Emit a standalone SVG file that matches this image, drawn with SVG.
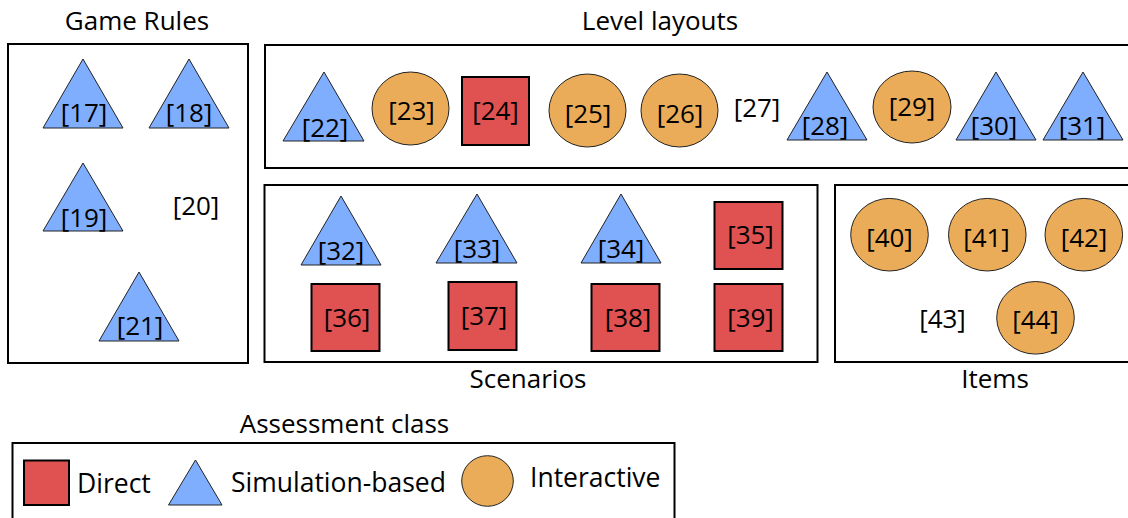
<svg xmlns="http://www.w3.org/2000/svg" width="1128" height="518" viewBox="0 0 1128 518">
<style>
.box{fill:none;stroke:#000;stroke-width:2}
.tri{fill:#80AEFF;stroke:#222;stroke-width:1}
.circ{fill:#EAAC58;stroke:#222;stroke-width:1}
.sq{fill:#E05151;stroke:#000;stroke-width:2}
text{font-family:"Open Sans","Noto Sans",sans-serif;fill:#000}
.t{font-size:26px;text-anchor:middle}
.l{font-size:26px;text-anchor:middle}
.lg{font-size:26.5px}
</style>
<rect width="1128" height="518" fill="#fff"/>
<g id="connectors"></g>
<g id="game-rules">
<rect class="box" x="8" y="44" width="240" height="319"/>
<text class="t" x="137" y="30">Game Rules</text>
<g id="n17"><polygon class="tri" points="83,59 123,128 43,128"/><text class="l" x="84" y="122">[17]</text></g>
<g id="n18"><polygon class="tri" points="189,59 229,128 149,128"/><text class="l" x="189" y="122">[18]</text></g>
<g id="n19"><polygon class="tri" points="83,163 123,231 43,231"/><text class="l" x="84" y="227">[19]</text></g>
<g id="n20"><text class="l" x="196" y="215">[20]</text></g>
<g id="n21"><polygon class="tri" points="139,272 179,341 99,341"/><text class="l" x="140" y="335">[21]</text></g>
</g>
<g id="level-layouts">
<rect class="box" x="265" y="45" width="870" height="123"/>
<text class="t" x="660" y="30">Level layouts</text>
<g id="n22"><polygon class="tri" points="324,72 364,141 283,141"/><text class="l" x="325" y="137">[22]</text></g>
<g id="n23"><ellipse class="circ" cx="410.5" cy="108.5" rx="38.5" ry="36.5"/><text class="l" x="411.5" y="120">[23]</text></g>
<g id="n24"><rect class="sq" x="462" y="77" width="67" height="68"/><text class="l" x="495.5" y="120">[24]</text></g>
<g id="n25"><ellipse class="circ" cx="587.5" cy="110.5" rx="38.5" ry="36.5"/><text class="l" x="588" y="123">[25]</text></g>
<g id="n26"><ellipse class="circ" cx="679.5" cy="110.5" rx="38.5" ry="36.5"/><text class="l" x="680" y="123">[26]</text></g>
<g id="n27"><text class="l" x="757" y="117">[27]</text></g>
<g id="n28"><polygon class="tri" points="827,72 867,140 787,140"/><text class="l" x="825" y="135">[28]</text></g>
<g id="n29"><ellipse class="circ" cx="912" cy="107" rx="39" ry="36"/><text class="l" x="912" y="116">[29]</text></g>
<g id="n30"><polygon class="tri" points="996,72 1036,140 956,140"/><text class="l" x="994" y="135">[30]</text></g>
<g id="n31"><polygon class="tri" points="1083,72 1123,140 1043,140"/><text class="l" x="1082" y="135">[31]</text></g>
</g>
<g id="scenarios">
<rect class="box" x="264.5" y="185" width="553" height="177"/>
<text class="t" x="528" y="388">Scenarios</text>
<g id="n32"><polygon class="tri" points="341,196 381,265 301,265"/><text class="l" x="341" y="260">[32]</text></g>
<g id="n33"><polygon class="tri" points="477,194 517,263 436,263"/><text class="l" x="477" y="258">[33]</text></g>
<g id="n34"><polygon class="tri" points="621,194 661,263 581,263"/><text class="l" x="621" y="258">[34]</text></g>
<g id="n35"><rect class="sq" x="714.5" y="202" width="68" height="67"/><text class="l" x="750.5" y="244">[35]</text></g>
<g id="n36"><rect class="sq" x="311.5" y="284" width="68" height="67"/><text class="l" x="347" y="327">[36]</text></g>
<g id="n37"><rect class="sq" x="448.5" y="282" width="68" height="68"/><text class="l" x="484" y="325">[37]</text></g>
<g id="n38"><rect class="sq" x="591.5" y="284" width="68" height="67"/><text class="l" x="628" y="327">[38]</text></g>
<g id="n39"><rect class="sq" x="714.5" y="284" width="68" height="67"/><text class="l" x="750.5" y="327">[39]</text></g>
</g>
<g id="items">
<rect class="box" x="835" y="185" width="300" height="177"/>
<text class="t" x="995" y="388">Items</text>
<g id="n40"><ellipse class="circ" cx="889.5" cy="234.7" rx="38.8" ry="36.3"/><text class="l" x="889.5" y="246.5">[40]</text></g>
<g id="n41"><ellipse class="circ" cx="987.3" cy="234.7" rx="38.8" ry="36.3"/><text class="l" x="986.5" y="246.5">[41]</text></g>
<g id="n42"><ellipse class="circ" cx="1083.8" cy="234.7" rx="38.8" ry="36.3"/><text class="l" x="1084" y="246.5">[42]</text></g>
<g id="n43"><text class="l" x="942.5" y="328">[43]</text></g>
<g id="n44"><ellipse class="circ" cx="1035.5" cy="317.8" rx="38.8" ry="36.3"/><text class="l" x="1035.5" y="329">[44]</text></g>
</g>
<g id="legend">
<rect class="box" x="12.5" y="443" width="662" height="100"/>
<text class="t" x="344.5" y="433">Assessment class</text>
<rect class="sq" x="24" y="460.5" width="45" height="44.5"/>
<text class="lg" x="77" y="493">Direct</text>
<polygon class="tri" points="195.5,460 222,505 168.5,505"/>
<text class="lg" x="231" y="492">Simulation-based</text>
<ellipse class="circ" cx="487.5" cy="481" rx="25.8" ry="25.3"/>
<text class="lg" x="530" y="487">Interactive</text>
</g>
</svg>
